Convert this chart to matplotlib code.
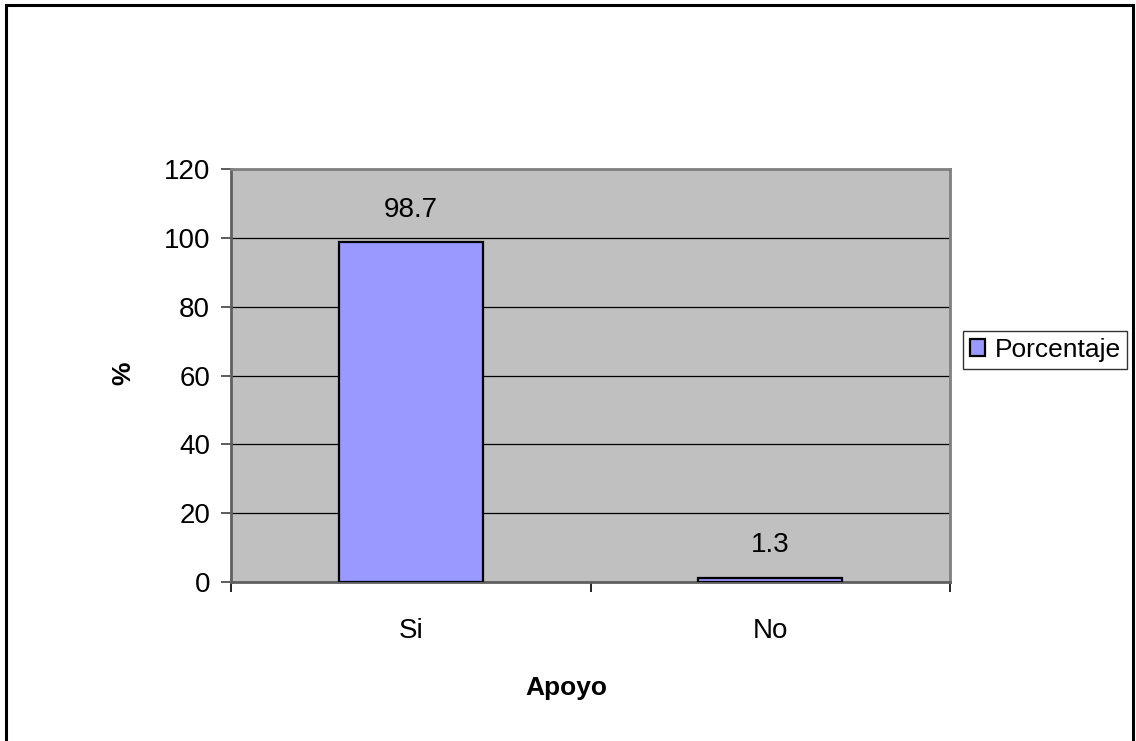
import matplotlib
matplotlib.use("Agg")
import matplotlib.pyplot as plt
from matplotlib.patches import Rectangle, Patch

categories = ["Si", "No"]
porcentaje = [98.7, 1.3]
y_ticks = [0, 20, 40, 60, 80, 100, 120]

plt.rcParams["font.family"] = ["Liberation Sans", "DejaVu Sans"]

W, H = 1136, 741
fig = plt.figure(figsize=(W / 100, H / 100), dpi=100)

# outer chart frame
fig.patches.append(Rectangle((5.5 / W, -0.01), 1127.5 / W, (H - 4.5) / H + 0.01,
                             transform=fig.transFigure, fill=False,
                             edgecolor="black", linewidth=2.2, zorder=0))

left, right, top, bottom = 231, 950, 169, 582
ax = fig.add_axes([left / W, (H - bottom) / H, (right - left) / W, (bottom - top) / H])
ax.set_facecolor("#C0C0C0")

x = list(range(len(categories)))
bars = ax.bar(x, porcentaje, width=0.4, color="#9999FF", edgecolor="black",
              linewidth=1.6, zorder=3, label="Porcentaje")

for xi, v in zip(x, porcentaje):
    ax.annotate(f"{v}", (xi, v), xytext=(0, 14), textcoords="offset points",
                ha="center", va="bottom", fontsize=20)

ax.set_xlim(-0.5, len(categories) - 0.5)
ax.set_ylim(0, 120)
ax.set_yticks(y_ticks)
ax.set_yticklabels([str(t) for t in y_ticks], fontsize=20)
ax.yaxis.grid(True, color="black", linewidth=0.9, zorder=1)
ax.set_axisbelow(True)

ax.set_xticks(x)
ax.set_xticklabels(categories, fontsize=20)
ax.set_xticks([i - 0.5 for i in range(len(categories) + 1)], minor=True)
ax.tick_params(axis="x", which="major", length=0, pad=26)
ax.tick_params(axis="x", which="minor", length=7, width=1.2, color="black", direction="out")
ax.tick_params(axis="y", length=7, width=1.2, color="#404040", direction="out", pad=8)

for side in ["top", "right"]:
    ax.spines[side].set_color("#808080")
    ax.spines[side].set_linewidth(2)
for side in ["left", "bottom"]:
    ax.spines[side].set_color("#606060")
    ax.spines[side].set_linewidth(2)

fig.text(566 / W, (H - 688) / H, "Apoyo", fontsize=19, fontweight="bold",
         ha="center", va="center")
fig.text(123 / W, (H - 373) / H, "%", fontsize=19, fontweight="bold",
         ha="center", va="center", rotation=90)

handle = Patch(facecolor="#9999FF", edgecolor="black", linewidth=1.6)
leg = fig.legend([handle], ["Porcentaje"], loc="center left",
                 bbox_to_anchor=(963 / W, (H - 350) / H), fontsize=19,
                 frameon=True, fancybox=False, borderpad=0.25, handlelength=0.6,
                 handleheight=0.6, handletextpad=0.35, borderaxespad=0)
leg.get_frame().set_edgecolor("black")
leg.get_frame().set_linewidth(1)

fig.savefig("out.png", dpi=100)
